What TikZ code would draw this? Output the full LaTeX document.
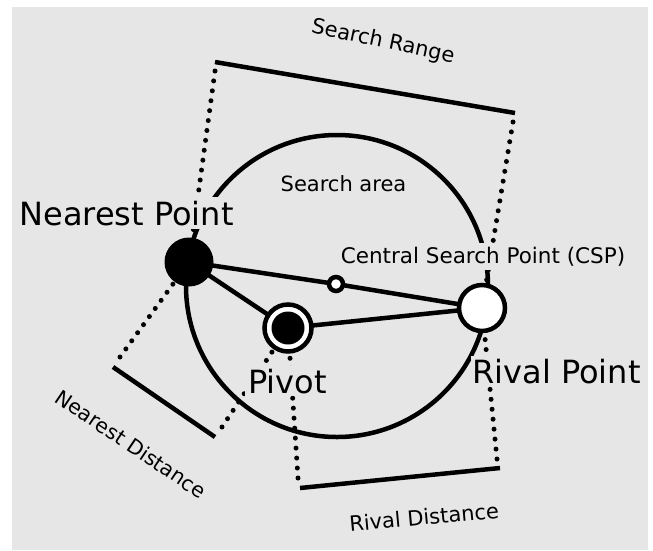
\documentclass[tikz,border=0pt]{standalone}
\usepackage{fontspec}
\setmainfont{DejaVu Sans}
\usetikzlibrary{backgrounds}
\definecolor{bg}{HTML}{E6E6E6}
\begin{document}
\begin{tikzpicture}[x=1pt,y=-1pt,
  thickline/.style={line width=4.5pt},
  dotline/.style={line width=5pt, line cap=round, dash pattern=on 0pt off 10pt},
  lbl/.style={fill=bg, inner sep=3pt, text=black},
  big/.style={font=\fontsize{32}{38}\selectfont},
  mid/.style={font=\fontsize{21}{25}\selectfont},
  blackdot/.style={circle, fill=black, inner sep=0pt, minimum size=49pt},
  whitedot/.style={circle, draw=black, line width=4.5pt, fill=white, inner sep=0pt},
]
\useasboundingbox (0,0) rectangle (653,550);

% points
\coordinate (C) at (337,286);
\node[blackdot] (N) at (189,262) {};
\node[whitedot, minimum size=46pt] (R) at (482,308) {};
\node[whitedot, minimum size=14pt] (CSP) at (336,284) {};
\node[whitedot, minimum size=47pt] (V) at (288,328) {};
\fill[black] (V.center) circle[radius=16.5pt];

% dimension line ends
\coordinate (SR1) at (215,62);   \coordinate (SR2) at (515,113);
\coordinate (SRd1) at (215,71);  \coordinate (SRd2) at (513,122);
\coordinate (ND1) at (113,367);  \coordinate (ND2) at (215,437);
\coordinate (NDd1) at (120,357); \coordinate (NDd2) at (222,427);
\coordinate (RD1) at (300,488);  \coordinate (RD2) at (500,468);
\coordinate (RDd1) at (298,478); \coordinate (RDd2) at (497,459);

\begin{pgfonlayer}{background}
  \fill[bg] (12,7) rectangle (648,550);
  % dotted extension lines
  \draw[dotline] (SRd1) -- (N);
  \draw[dotline] (SRd2) -- (R);
  \draw[dotline] (NDd1) -- (N);
  \draw[dotline] (NDd2) -- (V);
  \draw[dotline] (RDd1) -- (V);
  \draw[dotline] (RDd2) -- (R);
  % dimension lines
  \draw[thickline] (SR1) -- (SR2);
  \draw[thickline] (ND1) -- (ND2);
  \draw[thickline] (RD1) -- (RD2);
  % search area
  \draw[thickline] (C) circle[radius=151pt];
  % connectors
  \draw[thickline] (N.center) -- (CSP.center);
  \draw[thickline] (CSP.center) -- (R.center);
  \draw[thickline] (N.center) -- (V.center);
  \draw[thickline] (V.center) -- (R.center);
\end{pgfonlayer}

% labels
\node[lbl, big, inner sep=4pt, anchor=base] (tN) at (126.5,225) {Nearest Point};
\node[lbl, font=\fontsize{21.5}{26}\selectfont, inner sep=4pt, anchor=base] (tC) at (483,263) {Central Search Point (CSP)};
\node[lbl, mid, anchor=base] (tA) at (343.5,191) {Search area};
\node[lbl, big, anchor=base] (tP) at (287.5,393) {Pivot};
\node[lbl, big, inner xsep=1pt, inner ysep=3pt, anchor=base] (tR) at (556.5,383) {Rival Point};
\node[lbl, mid, rotate=-12] (tSR) at (383,42) {Search Range};
\node[lbl, font=\fontsize{20.5}{25}\selectfont, rotate=-34] (tND) at (131,444) {Nearest Distance};
\node[lbl, mid, rotate=5.3] (tRD) at (424,517) {Rival Distance};
\end{tikzpicture}
\end{document}
